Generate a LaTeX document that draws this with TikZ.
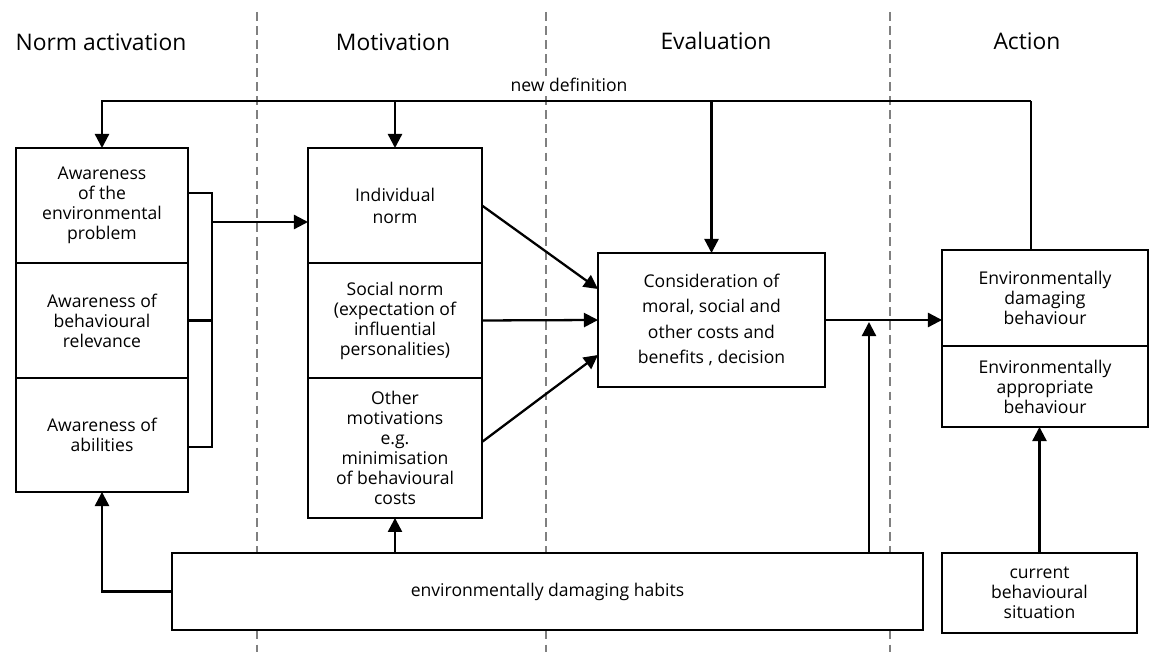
\documentclass[tikz,border=0pt]{standalone}
\usepackage{fontspec}
\setmainfont{Open Sans}
\usepackage{tikz}
\usetikzlibrary{positioning, arrows.meta, calc}

\tikzset{
  box/.style={draw, fill=white, line width=1.3pt, align=center, inner sep=2pt, outer sep=0pt,
              font=\fontsize{10}{11.4}\selectfont},
  header/.style={font=\fontsize{13}{15}\selectfont},
  divider/.style={gray, line width=0.9pt, dash pattern=on 5pt off 3pt},
  link/.style={line width=1.3pt, -{Triangle[length=8pt, width=8pt]}},
  plain/.style={line width=1.3pt}
}

\begin{document}
\begin{tikzpicture}[x=0.02cm, y=-0.02cm]

\useasboundingbox (0,0) rectangle (1150,652);

% Phase dividers
\foreach \x in {257,546,890}
  \draw[divider] (\x,12) -- (\x,652);

% Phase headers
\node (hNorm) [header] at (101,42) {Norm activation};
\node (hMot) [header] at (393,42) {Motivation};
\node (hEval) [header] at (716,41) {Evaluation};
\node (hAct) [header] at (1027,41) {Action};

% Norm activation (left)
\node (aw1) [box, minimum width=3.44cm, minimum height=2.3cm] at (102,205.5) {Awareness\\of the\\environmental\\problem};
\node (aw2) [box, minimum width=3.44cm, minimum height=2.3cm, anchor=north] at (aw1.south) {Awareness of\\behavioural\\relevance};
\node (aw3) [box, minimum width=3.44cm, minimum height=2.28cm, anchor=north] at (aw2.south) {Awareness of\\abilities};

% Motivation
\node (mot1) [box, minimum width=3.48cm, minimum height=2.3cm, font=\fontsize{10}{12.5}\selectfont] at (395,205.5) {Individual\\norm};
\node (mot2) [box, minimum width=3.48cm, minimum height=2.3cm, anchor=north] at (mot1.south) {Social norm\\(expectation of\\influential\\personalities)};
\node (mot3) [box, minimum width=3.48cm, minimum height=2.8cm, anchor=north] at (mot2.south) {Other\\motivations\\e.g.\\minimisation\\of behavioural\\costs};

% Evaluation
\node (cons) [box, minimum width=4.54cm, minimum height=2.68cm, font=\fontsize{10}{14.4}\selectfont] at (711.5,320) {Consideration of\\moral, social and\\other costs and\\benefits , decision};

% Action
\node (act1) [box, minimum width=4.12cm, minimum height=1.92cm] at (1045,298) {Environmentally\\damaging\\behaviour};
\node (act2) [box, minimum width=4.12cm, minimum height=1.62cm, anchor=north] at (act1.south) {Environmentally\\appropriate\\behaviour};

% Bottom boxes
\node (habits) [box, minimum width=15.02cm, minimum height=1.54cm] at (547.5,591.5) {environmentally damaging habits};
\node (sit) [box, minimum width=3.9cm, minimum height=1.6cm] at (1039.5,593) {current\\behavioural\\situation};

% Feedback loop (top)
\coordinate (ndR) at (1031,101);
\draw[plain] (act1.north -| ndR) -- (ndR);
\draw[link] (ndR) -| (aw1.north);
\draw[link] (mot1.north |- ndR) -- (mot1.north);
\draw[link] (cons.north |- ndR) -- (cons.north);
\node (newdef) [fill=white, inner sep=1pt, font=\fontsize{10}{12}\selectfont] at (569,85) {new definition};

% Bracket of the awareness boxes
\coordinate (brTop) at (212,193);
\coordinate (brBot) at (212,447);
\coordinate (brOut) at (212,222);
\draw[plain] (brTop -| aw1.east) -- (brTop) -- (brBot) -- (brBot -| aw3.east);
\draw[plain] (aw2.east) -- (aw2.east -| brTop);
\draw[link] (brOut) -- (brOut -| mot1.west);

% Motivations to consideration
\draw[link] (mot1.east) -- ([yshift=0.62cm]cons.west);
\draw[link] (mot2.east) -- (cons.west);
\draw[link] ([yshift=0.12cm]mot3.east) -- ([yshift=-0.7cm]cons.west);

% Consideration to action
\draw[link] (cons.east) -- (cons.east -| act1.west);

% Habits
\coordinate (join) at (869,322);
\draw[link] (habits.west) -| (aw3.south);
\draw[link] (habits.north -| mot3.south) -- (mot3.south);
\draw[link] (habits.north -| join) -- (join);

% Situation to action
\draw[link] (sit.north) -- (sit.north |- act2.south);

\end{tikzpicture}
\end{document}
